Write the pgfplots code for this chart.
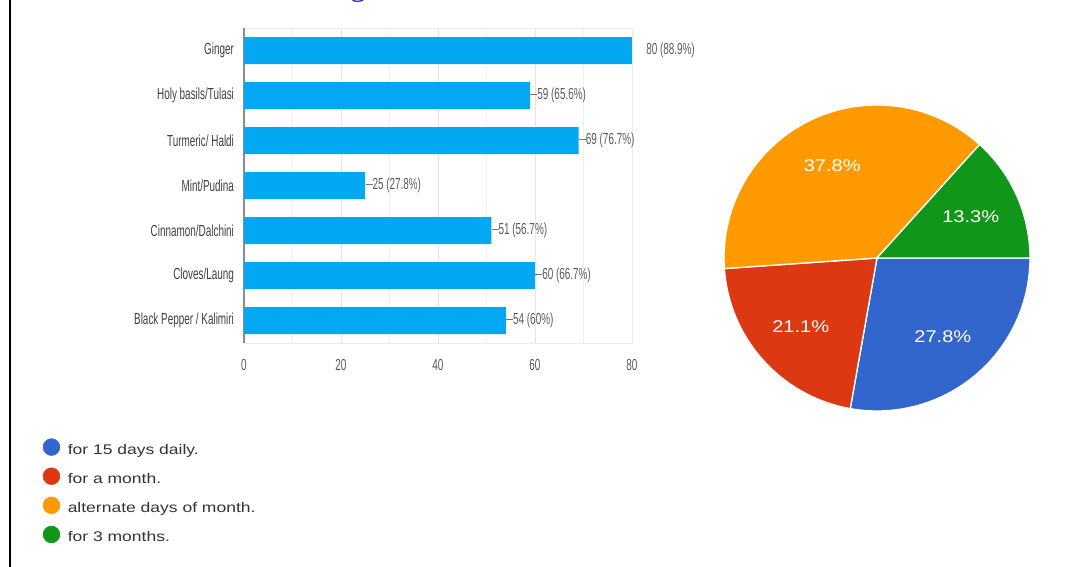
\documentclass[border=0pt]{standalone}
\usepackage{pgfplots}
\pgfplotsset{compat=1.18}
\usepackage{fontspec}
\setmainfont{Liberation Sans}
\newfontfamily\barfont[FakeStretch=0.62]{Liberation Sans}
\newfontfamily\legfont[FakeStretch=1.25]{Liberation Sans}
\newfontfamily\piefont[FakeStretch=1.18]{Liberation Sans}
\newfontfamily\titlefont{Liberation Serif}
\definecolor{barblue}{RGB}{3,168,243}
\definecolor{pieblue}{RGB}{51,102,204}
\definecolor{piered}{RGB}{220,57,18}
\definecolor{pieorange}{RGB}{255,153,0}
\definecolor{piegreen}{RGB}{16,150,24}
\definecolor{titleblue}{RGB}{30,34,150}
\newcommand\ldr{\textcolor{black!55}{\rule[0.32em]{5.25pt}{0.6pt}}}
\begin{document}
\begin{tikzpicture}
\path[use as bounding box] (0pt,0pt) rectangle (802.5pt,425.25pt);
\begin{scope}
\clip (0pt,0pt) rectangle (802.5pt,425.25pt);
\node[anchor=base, inner sep=0pt, font=\titlefont\fontsize{24}{24}\selectfont, text=titleblue] at (268.5pt,428.5pt) {g};
\end{scope}
\draw[black, line width=1.3pt] (7.5pt,0pt) -- (7.5pt,425.25pt);

% ---------- bar chart ----------
\begin{axis}[
  at={(183pt,168pt)}, anchor=south west,
  scale only axis, width=291pt, height=236.25pt,
  xbar, bar width=0.6,
  xmin=0, xmax=80, ymin=-0.5, ymax=6.5, y dir=reverse,
  ytick={0,1,2,3,4,5,6},
  yticklabels={Ginger,Holy basils/Tulasi,Turmeric/ Haldi,Mint/Pudina,Cinnamon/Dalchini,Cloves/Laung,Black Pepper / Kalimiri},
  xtick={20,40,60,80}, minor xtick={10,30,50,70},
  extra x ticks={0},
  extra x tick style={major grid style={black!45, line width=0.8pt}},
  xmajorgrids, xminorgrids,
  major grid style={black!10}, minor grid style={black!6},
  axis line style={black!8},
  major tick length=0pt, minor tick length=0pt,
  /pgf/number format/assume math mode=true,
  xticklabel style={font=\barfont\fontsize{12}{14}\selectfont, text=black!65, yshift=-8.5pt},
  yticklabel style={font=\barfont\fontsize{12}{14}\selectfont, text=black!75, xshift=-4pt},
  point meta=explicit symbolic,
  nodes near coords,
  nodes near coords style={anchor=west, inner sep=0pt, font=\barfont\fontsize{12}{14}\selectfont, text=black!65},
]
\addplot[fill=barblue, draw=none] coordinates {
  (80,0) [\hspace{10.5pt}80 (88.9\%)]
  (59,1) [\ldr59 (65.6\%)]
  (69,2) [\ldr69 (76.7\%)]
  (25,3) [\ldr25 (27.8\%)]
  (51,4) [\ldr51 (56.7\%)]
  (60,5) [\ldr60 (66.7\%)]
  (54,6) [\ldr54 (60\%)]
};
\end{axis}

% ---------- pie chart ----------
\begin{axis}[
  at={(657.75pt,231.75pt)}, anchor=center,
  scale only axis, width=229.5pt, height=229.5pt,
  xmin=-1, xmax=1, ymin=-1, ymax=1,
  hide axis, clip=false,
  legend style={at={(-2.24,-0.08)}, anchor=north west, draw=none, fill=none,
    font=\legfont\fontsize{10.5}{12}\selectfont, text=black!80,
    row sep=7.5pt, nodes={text height=8pt, text depth=2.5pt, inner ysep=0pt}},
  legend cell align=left,
  legend image code/.code={\fill[#1] (0pt,2.6pt) circle (6.3pt); \path (10pt,0pt);},
]
% shares (%): 27.8, 21.1, 37.8, 13.3 -- clockwise from 0 degrees
\fill[pieblue, draw=white, line width=1pt] (axis cs:0,0) -- (axis cs:1,0)
  arc[start angle=0, delta angle={-3.6*27.8}, radius=114.75pt] -- cycle;
\fill[piered, draw=white, line width=1pt] (axis cs:0,0) -- (axis cs:{cos(-100.08)},{sin(-100.08)})
  arc[start angle=-100.08, delta angle={-3.6*21.1}, radius=114.75pt] -- cycle;
\fill[pieorange, draw=white, line width=1pt] (axis cs:0,0) -- (axis cs:{cos(-176.04)},{sin(-176.04)})
  arc[start angle=-176.04, delta angle={-3.6*37.8}, radius=114.75pt] -- cycle;
\fill[piegreen, draw=white, line width=1pt] (axis cs:0,0) -- (axis cs:{cos(-312.12)},{sin(-312.12)})
  arc[start angle=-312.12, delta angle={-3.6*13.3}, radius=114.75pt] -- cycle;
\node[text=white, font=\piefont\fontsize{12.75}{14}\selectfont] at (axis cs:{0.67*cos(-50.04)},{0.67*sin(-50.04)}) {27.8\%};
\node[text=white, font=\piefont\fontsize{12.75}{14}\selectfont] at (axis cs:{0.67*cos(-138.06)},{0.67*sin(-138.06)}) {21.1\%};
\node[text=white, font=\piefont\fontsize{12.75}{14}\selectfont] at (axis cs:{0.67*cos(-244.08)},{0.67*sin(-244.08)}) {37.8\%};
\node[text=white, font=\piefont\fontsize{12.75}{14}\selectfont] at (axis cs:{0.67*cos(-336.06)},{0.67*sin(-336.06)}) {13.3\%};
\addlegendimage{pieblue}\addlegendentry{for 15 days daily.}
\addlegendimage{piered}\addlegendentry{for a month.}
\addlegendimage{pieorange}\addlegendentry{alternate days of month.}
\addlegendimage{piegreen}\addlegendentry{for 3 months.}
\end{axis}
\end{tikzpicture}
\end{document}
